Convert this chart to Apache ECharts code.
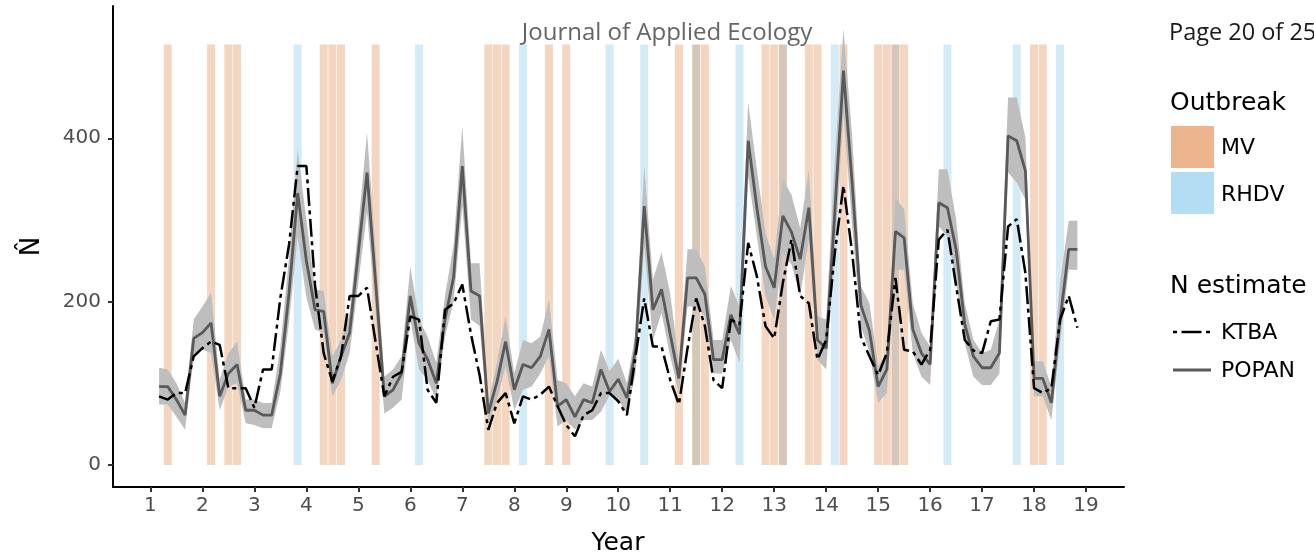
<!DOCTYPE html>
<html>
<head>
<meta charset="utf-8">
<script src="https://cdn.jsdelivr.net/npm/echarts@6/dist/echarts.min.js"></script>
<style>
html,body{margin:0;padding:0;background:#fff;}
#chart{width:1314px;height:557px;}
</style>
</head>
<body>
<div id="chart"></div>
<script>
// Trapping sessions (year of study)
const sessionYear = [
  1.167,1.333,1.5,1.667,1.833,2,
  2.167,2.333,2.5,2.667,2.833,3,
  3.167,3.333,3.5,3.667,3.833,4,
  4.167,4.333,4.5,4.667,4.833,5,
  5.167,5.333,5.5,5.667,5.833,6,
  6.167,6.333,6.5,6.667,6.833,7,
  7.167,7.333,7.5,7.667,7.833,8,
  8.167,8.333,8.5,8.667,8.833,9,
  9.167,9.333,9.5,9.667,9.833,10,
  10.167,10.333,10.5,10.667,10.833,11,
  11.167,11.333,11.5,11.667,11.833,12,
  12.167,12.333,12.5,12.667,12.833,13,
  13.167,13.333,13.5,13.667,13.833,14,
  14.167,14.333,14.5,14.667,14.833,15,
  15.167,15.333,15.5,15.667,15.833,16,
  16.167,16.333,16.5,16.667,16.833,17,
  17.167,17.333,17.5,17.667,17.833,18,
  18.167,18.333,18.5,18.667,18.833
];
// POPAN estimate and its confidence band
const popan = [
  96,96,80,61,155,162,
  174,84,112,123,67,67,
  61,61,112,211,333,250,
  190,188,100,133,162,260,
  358,223,84,92,112,207,
  149,129,100,178,230,366,
  213,207,63,102,151,92,
  123,119,133,166,72,80,
  59,80,76,117,90,105,
  82,141,317,190,215,160,
  106,229,229,209,129,129,
  184,160,397,315,243,217,
  305,285,252,315,153,143,
  310,483,345,196,164,96,
  117,286,278,166,137,123,
  321,315,264,172,133,119,
  119,137,403,397,360,106,
  106,76,178,264,264
];
const popanLower = [
  74,74,59,43,133,141,
  137,67,96,100,51,49,
  45,45,90,175,280,205,
  166,162,84,104,137,223,
  309,186,63,70,80,178,
  117,104,80,157,200,317,
  178,170,51,80,121,67,
  92,96,112,133,47,55,
  43,55,55,65,85,80,
  63,112,268,153,186,133,
  88,194,194,182,112,112,
  153,125,354,280,207,178,
  260,245,207,276,129,117,
  260,431,292,170,137,76,
  88,239,239,137,108,98,
  292,280,223,149,108,98,
  98,112,358,346,325,84,
  84,55,150,239,239
];
const popanUpper = [
  119,117,100,76,178,194,
  211,104,137,151,80,80,
  76,76,145,255,386,300,
  215,213,133,153,186,292,
  407,260,108,117,133,243,
  178,157,125,207,270,415,
  247,247,76,125,182,112,
  153,149,157,202,104,100,
  84,100,96,141,115,130,
  100,162,366,227,260,210,
  125,264,264,243,153,153,
  219,194,444,362,284,252,
  350,331,290,362,182,178,
  374,534,403,219,198,121,
  137,327,313,198,162,145,
  362,362,301,198,153,137,
  141,178,450,450,401,127,
  127,96,225,299,299
];
// KTBA estimate
const ktba = [
  84,80,88,88,133,143,
  151,147,94,94,94,70,
  117,117,205,270,366,366,
  220,137,102,133,207,207,
  217,150,84,108,114,182,
  178,92,76,190,198,221,
  160,110,43,76,88,51,
  84,80,86,96,72,49,
  35,61,67,88,88,78,
  61,133,204,145,145,104,
  74,143,204,170,104,94,
  178,172,272,231,170,155,
  223,276,207,198,129,153,
  260,342,260,157,133,110,
  137,229,141,139,123,141,
  276,288,219,153,140,137,
  176,178,292,301,235,94,
  88,94,178,207,168
];
// Outbreak sessions
const mvYears = [1.333,2.167,2.5,2.667,4.333,4.5,4.667,5.333,7.5,7.667,7.833,8.667,9,
  11.167,11.5,11.667,12.833,13,13.167,13.667,13.833,14.333,15,15.167,15.333,15.5,18,18.167];
const rhdvYears = [3.833,6.167,8.167,9.833,10.5,11.5,12.333,13.167,14.167,15.333,16.333,17.667,18.5];
const outbreakTop = 515;
const xTicks = [1,2,3,4,5,6,7,8,9,10,11,12,13,14,15,16,17,18,19];
const yTicks = [0,200,400];

const zip = (a, b) => a.map((v, i) => [v, b[i]]);
const allOutbreak = Array.from(new Set(mvYears.concat(rhdvYears))).sort((a, b) => a - b);
const outbreakData = allOutbreak.map(t => {
  const m = mvYears.includes(t), r = rhdvYears.includes(t);
  return [t, m && r ? 2 : (m ? 0 : 1)];
});
const barColors = ['#F4D5BF', '#D3EAF7', '#D6C6B8'];
const halfW = 0.077;

const chart = echarts.init(document.getElementById('chart'), null, {renderer: 'canvas'});
const axisFont = 'DejaVu Sans';
const txt = (text, x, y, font, fill, align) => ({
  type: 'text', x: x, y: y, silent: true, z: 10,
  style: {text: text, x: 0, y: 0, fill: fill || '#000', font: font,
    align: align || 'left', textAlign: align || 'left', verticalAlign: 'middle', textVerticalAlign: 'middle'}
});
chart.setOption({
  animation: false,
  backgroundColor: '#fff',
  grid: {left: 113, top: 6, width: 1011, height: 481, containLabel: false},
  xAxis: {
    type: 'value', min: 0.28, max: 19.73,
    axisLine: {onZero: false, lineStyle: {color: '#000', width: 2}},
    axisTick: {show: true, length: 5, customValues: xTicks, lineStyle: {color: '#333', width: 2}},
    axisLabel: {customValues: xTicks, fontSize: 20, fontFamily: axisFont, color: '#4d4d4d', margin: 9},
    splitLine: {show: false}
  },
  yAxis: {
    type: 'value', min: -27, max: 562,
    name: 'N\u0302', nameLocation: 'middle', nameRotate: 90, nameGap: 68,
    nameTextStyle: {fontSize: 26, fontFamily: axisFont, color: '#000'},
    axisLine: {show: true, onZero: false, lineStyle: {color: '#000', width: 2}},
    axisTick: {show: true, length: 5, customValues: yTicks, lineStyle: {color: '#333', width: 2}},
    axisLabel: {customValues: yTicks, fontSize: 20, fontFamily: axisFont, color: '#4d4d4d', margin: 12},
    splitLine: {show: false}
  },
  series: [
    {
      type: 'custom', name: 'Outbreak', silent: true, z: 1,
      data: outbreakData,
      encode: {x: 0, y: 1},
      renderItem: (params, api) => {
        const t = api.value(0);
        const c = api.value(1);
        const p0 = api.coord([t - halfW, outbreakTop]);
        const p1 = api.coord([t + halfW, 0]);
        return {type: 'rect', shape: {x: p0[0], y: p0[1], width: p1[0] - p0[0], height: p1[1] - p0[1]},
          style: {fill: barColors[c]}};
      }
    },
    {
      type: 'custom', name: 'POPAN CI', silent: true, z: 2,
      data: sessionYear.map((t, i) => [t, popanLower[i], popanUpper[i]]),
      encode: {x: 0, y: [1, 2]},
      renderItem: (params, api) => {
        if (params.dataIndex !== 0) return null;
        const pts = [];
        for (let i = 0; i < sessionYear.length; i++) pts.push(api.coord([sessionYear[i], popanUpper[i]]));
        for (let i = sessionYear.length - 1; i >= 0; i--) pts.push(api.coord([sessionYear[i], popanLower[i]]));
        return {type: 'polygon', shape: {points: pts}, style: {fill: '#BEBEBE'}};
      }
    },
    {
      type: 'line', name: 'POPAN', silent: true, z: 3,
      data: zip(sessionYear, popan), symbol: 'none',
      lineStyle: {color: '#595959', width: 2.8}
    },
    {
      type: 'line', name: 'KTBA', silent: true, z: 4,
      data: zip(sessionYear, ktba), symbol: 'none',
      lineStyle: {color: '#000', width: 2.5, type: [18, 4.5, 4, 4.5]}
    }
  ],
  graphic: [
    {type: 'text', x: 667, y: 33, silent: true, z: 10,
      style: {text: 'Journal of Applied Ecology', x: 0, y: 0, fill: '#666', font: '24px "Open Sans"',
        align: 'center', textAlign: 'center', verticalAlign: 'middle', textVerticalAlign: 'middle'}},
    txt('Page 20 of 25', 1169, 33, '23.5px "Open Sans"', '#1a1a1a'),
    txt('Year', 618, 543, '25px "DejaVu Sans"', '#000', 'center'),
    txt('Outbreak', 1170, 103, '25px "DejaVu Sans"'),
    {type: 'rect', silent: true, shape: {x: 1171, y: 126, width: 43, height: 42}, style: {fill: '#EDB58E'}},
    txt('MV', 1221, 148, '22px "DejaVu Sans"'),
    {type: 'rect', silent: true, shape: {x: 1171, y: 172, width: 43, height: 42}, style: {fill: '#B3DDF2'}},
    txt('RHDV', 1221, 195, '22px "DejaVu Sans"'),
    txt('N estimate', 1170, 286, '25px "DejaVu Sans"'),
    {type: 'polyline', silent: true, shape: {points: [[1173, 332], [1211, 332]]},
      style: {stroke: '#000', lineWidth: 2.5, lineDash: [4, 4.5, 20, 4.5]}},
    txt('KTBA', 1221, 333, '22px "DejaVu Sans"'),
    {type: 'polyline', silent: true, shape: {points: [[1173, 370], [1211, 370]]},
      style: {stroke: '#595959', lineWidth: 2.8}},
    txt('POPAN', 1221, 371, '22px "DejaVu Sans"')
  ]
});
</script>
</body>
</html>
